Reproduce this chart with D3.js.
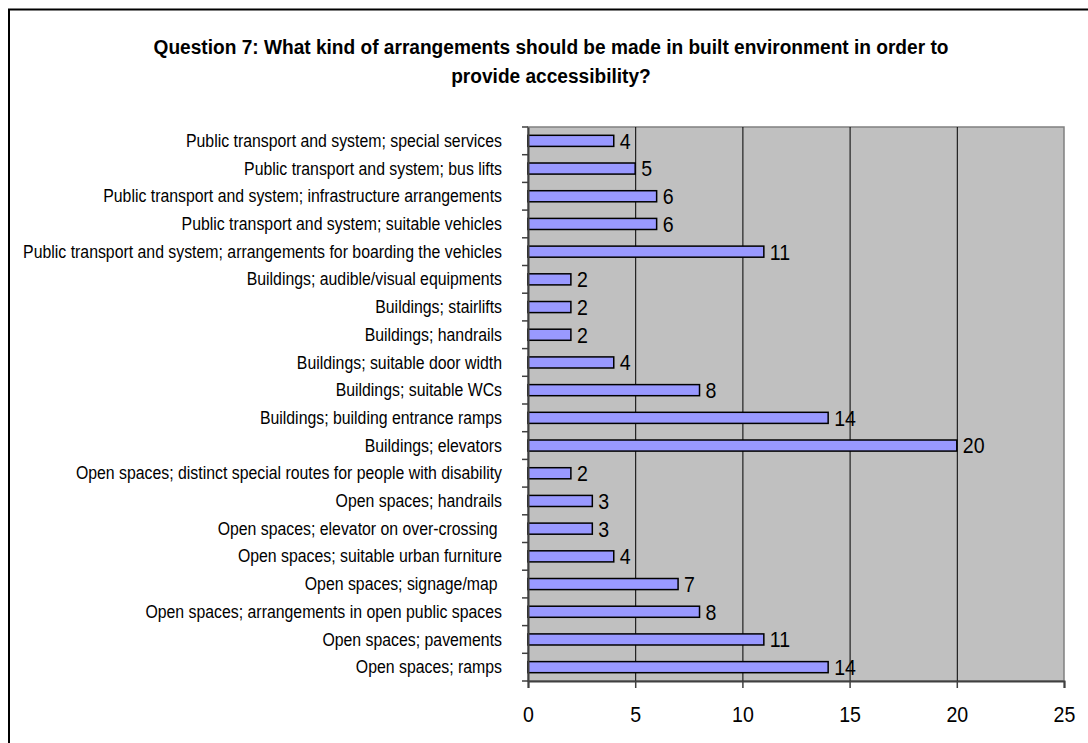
<!DOCTYPE html>
<html>
<head>
<meta charset="utf-8">
<script src="https://cdn.jsdelivr.net/npm/d3@7"></script>
<style>
  html, body { margin: 0; padding: 0; background: #fff; }
  svg { display: block; }
  text { font-family: "Liberation Sans", Arial, sans-serif; white-space: pre; }
</style>
</head>
<body>
<svg id="chart" width="1088" height="743"></svg>
<script>
// Survey answers, listed top to bottom
const categories = [
  "Public transport and system; special services",
  "Public transport and system; bus lifts",
  "Public transport and system; infrastructure arrangements",
  "Public transport and system; suitable vehicles",
  "Public transport and system; arrangements for boarding the vehicles",
  "Buildings; audible/visual equipments",
  "Buildings; stairlifts",
  "Buildings; handrails",
  "Buildings; suitable door width",
  "Buildings; suitable WCs",
  "Buildings; building entrance ramps",
  "Buildings; elevators",
  "Open spaces; distinct special routes for people with disability",
  "Open spaces; handrails",
  "Open spaces; elevator on over-crossing ",
  "Open spaces; suitable urban furniture",
  "Open spaces; signage/map ",
  "Open spaces; arrangements in open public spaces",
  "Open spaces; pavements",
  "Open spaces; ramps"
];
const counts = [4, 5, 6, 6, 11, 2, 2, 2, 4, 8, 14, 20, 2, 3, 3, 4, 7, 8, 11, 14];
const xTicks = [0, 5, 10, 15, 20, 25];
const titleLines = [
  "Question 7: What kind of arrangements should be made in built environment in order to",
  "provide accessibility?"
];

const svg = d3.select("#chart");

// condensed lettering: shrink each text run horizontally by a factor
function condense(factor) {
  return sel => sel.each(function () {
    const len = this.getComputedTextLength();
    if (len > 0) {
      this.setAttribute("textLength", (len * factor).toFixed(2));
      this.setAttribute("lengthAdjust", "spacingAndGlyphs");
    }
  });
}

// outer frame
svg.append("rect")
  .attr("x", 9).attr("y", 9.5)
  .attr("width", 1100).attr("height", 760)
  .attr("fill", "#fff").attr("stroke", "#000").attr("stroke-width", 2);

const plot = { left: 528, right: 1064, top: 127, bottom: 681 };

const x = d3.scaleLinear().domain([0, 25]).range([plot.left, plot.right]);
const y = d3.scaleBand().domain(categories).range([plot.top, plot.bottom])
  .paddingInner(0.6).paddingOuter(0.3);

// title
svg.append("g").selectAll("text").data(titleLines).join("text")
  .attr("x", 551)
  .attr("y", (d, i) => 54 + i * 29)
  .attr("text-anchor", "middle")
  .attr("font-size", 20)
  .attr("font-weight", "bold")
  .attr("fill", "#000")
  .text(d => d)
  .call(condense(0.955));

// plot background
svg.append("rect")
  .attr("x", plot.left).attr("y", plot.top)
  .attr("width", plot.right - plot.left).attr("height", plot.bottom - plot.top)
  .attr("fill", "#c0c0c0").attr("stroke", "#808080").attr("stroke-width", 1.5);

// vertical gridlines
svg.append("g").selectAll("line").data(xTicks.filter(t => t > 0 && t < 25)).join("line")
  .attr("x1", d => x(d) + 0.5).attr("x2", d => x(d) + 0.5)
  .attr("y1", plot.top).attr("y2", plot.bottom)
  .attr("stroke", "#000").attr("stroke-width", 1);

// bars
svg.append("g").selectAll("rect").data(counts).join("rect")
  .attr("x", x(0))
  .attr("y", (d, i) => y(categories[i]))
  .attr("width", d => x(d) - x(0))
  .attr("height", y.bandwidth())
  .attr("fill", "#9999ff")
  .attr("stroke", "#000").attr("stroke-width", 1.5);

// value labels
svg.append("g").selectAll("text").data(counts).join("text")
  .attr("x", d => x(d) + 6)
  .attr("y", (d, i) => y(categories[i]) + y.bandwidth() / 2)
  .attr("dy", "0.36em")
  .attr("font-size", 22)
  .attr("fill", "#000")
  .text(d => d)
  .call(condense(0.89));

// category axis
const yAxis = svg.append("g")
  .attr("transform", `translate(${plot.left},0)`)
  .call(d3.axisLeft(y).tickSize(0).tickPadding(26));
yAxis.select(".domain").attr("stroke", "#404040").attr("stroke-width", 2);
yAxis.selectAll("text")
  .attr("font-size", 17.5)
  .attr("font-family", "Liberation Sans, Arial, sans-serif")
  .attr("fill", "#000")
  .attr("dy", "0.35em")
  .call(condense(0.905));
// tick marks between categories
const step = y.step();
yAxis.append("g").selectAll("line").data(d3.range(categories.length + 1)).join("line")
  .attr("x1", -6).attr("x2", 0)
  .attr("y1", i => plot.top + i * step).attr("y2", i => plot.top + i * step)
  .attr("stroke", "#404040").attr("stroke-width", 1.5);

// value axis
const xAxis = svg.append("g")
  .attr("transform", `translate(0,${plot.bottom})`)
  .call(d3.axisBottom(x).tickValues(xTicks).tickSize(7).tickPadding(18).tickFormat(d3.format("d")));
xAxis.select(".domain").attr("stroke", "#404040").attr("stroke-width", 2);
xAxis.selectAll(".tick line").attr("stroke", "#404040").attr("stroke-width", 1.5);
xAxis.selectAll("text")
  .attr("font-size", 22)
  .attr("font-family", "Liberation Sans, Arial, sans-serif")
  .attr("fill", "#000")
  .call(condense(0.89));
</script>
</body>
</html>
